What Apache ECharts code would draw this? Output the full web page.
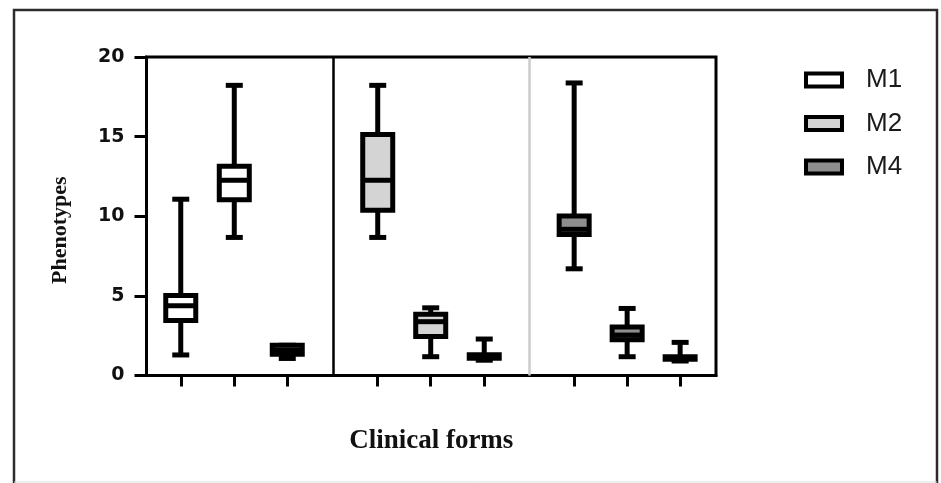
<!DOCTYPE html>
<html><head><meta charset="utf-8">
<script src="https://cdn.jsdelivr.net/npm/echarts@6/dist/echarts.min.js"></script>
<style>html,body{margin:0;padding:0;background:#fff}#c{width:941px;height:483px}</style>
</head><body><div id="c"></div>
<script>
// ---- data ----
const groups = ['M1', 'M2', 'M4'];
const clinicalForms = ['Form 1', 'Form 2', 'Form 3'];
// each box: [min, Q1, median, Q3, max]
const m1Boxes = [[1.29, 3.45, 4.38, 5.02, 11.07], [8.67, 11.04, 12.26, 13.14, 18.22], [1.07, 1.34, 1.60, 1.90, 1.90]];
const m2Boxes = [[8.67, 10.37, 12.26, 15.14, 18.22], [1.18, 2.45, 3.38, 3.85, 4.25], [0.96, 1.08, 1.20, 1.30, 2.29]];
const m4Boxes = [[6.70, 8.86, 9.18, 10.02, 18.37], [1.18, 2.25, 2.54, 3.04, 4.21], [0.91, 1.02, 1.10, 1.17, 2.08]];
const yTicks = [0, 5, 10, 15, 20];

// ---- layout (positions on the value x-axis, in box-spacing units) ----
const boxSlotX = [[0.64, 1.64, 2.63], [4.32, 5.31, 6.31], [7.99, 8.98, 9.97]];
const panelDividers = [3.49, 7.15];
const groupFill = ['#ffffff', '#d4d4d4', '#8e8e8e'];
const allBoxes = [m1Boxes, m2Boxes, m4Boxes];

function renderBox(params, api) {
  const x = api.value(0);
  const c = v => api.coord([x, v]);
  const cx = c(api.value(1))[0];
  const yMin = c(api.value(1))[1], yQ1 = c(api.value(2))[1], yMed = c(api.value(3))[1],
        yQ3 = c(api.value(4))[1], yMax = c(api.value(5))[1];
  const fill = api.visual('color');
  const hw = 15, cap = 8.5, lw = 5;
  const ln = (x1, y1, x2, y2) => ({type: 'line', shape: {x1, y1, x2, y2}, style: {stroke: '#000', lineWidth: lw}});
  return {
    type: 'group',
    children: [
      ln(cx, yMax, cx, yQ3),
      ln(cx, yQ1, cx, yMin),
      ln(cx - cap, yMax, cx + cap, yMax),
      ln(cx - cap, yMin, cx + cap, yMin),
      {type: 'rect', shape: {x: cx - hw, y: yQ3, width: 2 * hw, height: yQ1 - yQ3},
       style: {fill: fill, stroke: '#000', lineWidth: lw}},
      ln(cx - hw, yMed, cx + hw, yMed)
    ]
  };
}

const series = groups.map((g, gi) => ({
  name: g,
  type: 'custom',
  renderItem: renderBox,
  itemStyle: {color: groupFill[gi], borderColor: '#000', borderWidth: 4},
  encode: {x: 0, y: [1, 2, 3, 4, 5]},
  data: allBoxes[gi].map((b, fi) => ({name: clinicalForms[fi], value: [boxSlotX[gi][fi]].concat(b)})),
  z: 3
}));
series[0].markLine = {
  silent: true, symbol: 'none', label: {show: false}, animation: false,
  data: [
    {xAxis: panelDividers[0], lineStyle: {color: '#000', width: 2.5, type: 'solid'}},
    {xAxis: panelDividers[1], lineStyle: {color: '#cccccc', width: 2.5, type: 'solid'}}
  ]
};

const chart = echarts.init(document.getElementById('c'));
chart.setOption({
  animation: false,
  backgroundColor: '#fff',
  grid: {left: 146.5, right: 225, top: 57, bottom: 107.5, show: true, borderColor: '#000', borderWidth: 3, backgroundColor: 'transparent'},
  legend: {
    orient: 'vertical', left: 799, top: 62, itemWidth: 36, itemHeight: 13, itemGap: 17.5, icon: 'rect',
    textStyle: {fontFamily: 'Liberation Sans', fontSize: 26, color: '#1a1a1a', lineHeight: 26, padding: [0, 0, 0, 19]},
    data: groups.map((g, gi) => ({name: g, itemStyle: {color: groupFill[gi], borderColor: '#000', borderWidth: 4}}))
  },
  xAxis: {
    type: 'value', min: 0, max: 10.64,
    name: 'Clinical forms', nameLocation: 'middle', nameGap: 52,
    nameTextStyle: {fontFamily: 'Liberation Serif', fontWeight: 'bold', fontSize: 27, color: '#111'},
    axisLine: {show: true, lineStyle: {color: '#000', width: 3}},
    axisTick: {show: true, length: 11, lineStyle: {color: '#000', width: 3}, customValues: boxSlotX.flat()},
    axisLabel: {show: false},
    splitLine: {show: false}
  },
  yAxis: {
    type: 'value', min: yTicks[0], max: yTicks[yTicks.length - 1], interval: 5,
    name: 'Phenotypes', nameLocation: 'middle', nameGap: 75, nameRotate: 90,
    nameTextStyle: {fontFamily: 'Liberation Serif', fontWeight: 'bold', fontSize: 22, color: '#111', padding: [0, 28, 0, 0]},
    axisLine: {show: true, lineStyle: {color: '#000', width: 3}},
    axisTick: {show: true, length: 12, lineStyle: {color: '#000', width: 3}},
    axisLabel: {fontFamily: 'DejaVu Sans', fontWeight: 'bold', fontSize: 19, color: '#111', margin: 22},
    splitLine: {show: false}
  },
  graphic: [
    {type: 'rect', silent: true, shape: {x: 14, y: 10, width: 923, height: 490}, style: {fill: 'none', stroke: '#2b2b2b', lineWidth: 2.5}},
    {type: 'line', silent: true, shape: {x1: 14, y1: 482, x2: 937, y2: 482}, style: {stroke: '#dddddd', lineWidth: 1}}
  ],
  series: series
});
</script></body></html>
